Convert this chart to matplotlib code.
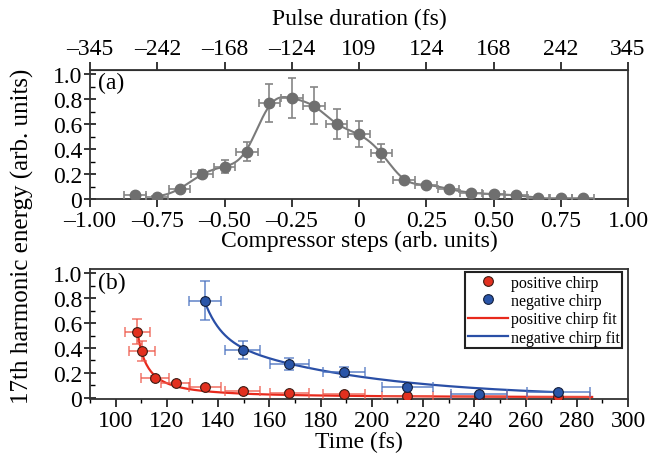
import matplotlib

matplotlib.use("Agg")

import matplotlib.pyplot as plt
import numpy as np
from matplotlib.ticker import FixedLocator, MultipleLocator

plt.rcParams["font.family"] = ["Liberation Serif", "DejaVu Serif"]

# ── Data: panel (a) ──────────────────────────────────────────────────────────
steps = [-10 / 12, -9 / 12, -8 / 12, -7 / 12, -6 / 12, -5 / 12, -4 / 12,
         -3 / 12, -2 / 12, -1 / 12, 0.0, 1 / 12, 2 / 12, 3 / 12, 4 / 12,
         5 / 12, 6 / 12, 7 / 12, 8 / 12, 9 / 12, 10 / 12]
energy_a = [0.035, 0.02, 0.08, 0.20, 0.26, 0.38, 0.77, 0.81, 0.75, 0.60,
            0.52, 0.37, 0.15, 0.115, 0.08, 0.05, 0.04, 0.03, 0.01, 0.01, 0.01]
energy_a_err = [0.01, 0.01, 0.02, 0.03, 0.055, 0.077, 0.155, 0.16, 0.15, 0.12,
                0.105, 0.075, 0.02, 0.015, 0.015, 0.01, 0.01, 0.01, 0.01, 0.01, 0.01]
steps_err = [0.04] * 21

step_ticks = [-1.0, -0.75, -0.5, -0.25, 0.0, 0.25, 0.5, 0.75, 1.0]
step_labels = ["–1.00", "–0.75", "–0.50", "–0.25", "0", "0.25", "0.50", "0.75", "1.00"]
pulse_labels = ["–345", "–242", "–168", "–124", "109", "124", "168", "242", "345"]

# ── Data: panel (b) ──────────────────────────────────────────────────────────
t_pos = [108.5, 110.2, 115.4, 123.4, 134.9, 149.6, 167.8, 189.2, 213.9, 241.8, 272.8]
e_pos = [0.53, 0.376, 0.156, 0.115, 0.086, 0.053, 0.04, 0.03, 0.013, 0.013, 0.01]
e_pos_err = [0.10, 0.08, 0.015, 0.01, 0.01, 0.01, 0.01, 0.01, 0.01, 0.01, 0.01]
t_pos_err = [4.9, 5.0, 5.3, 5.6, 6.2, 6.8, 7.6, 8.3, 9.8, 11.0, 12.2]

t_neg = [134.8, 149.6, 167.8, 189.2, 213.9, 241.8, 272.8]
e_neg = [0.78, 0.384, 0.27, 0.21, 0.089, 0.027, 0.045]
e_neg_err = [0.155, 0.075, 0.05, 0.04, 0.01, 0.01, 0.01]
t_neg_err = [6.2, 6.8, 7.6, 8.3, 9.8, 11.0, 12.2]

# fit parameters
pos_fit_a, pos_fit_t0, pos_fit_p = 3.26, 104.0, 1.2
neg_fit_a, neg_fit_tau1, neg_fit_b, neg_fit_tau2, neg_fit_t0 = 0.28, 6.3, 0.48, 58.0, 135.0

GREY = "#6f6f6f"
RED = "#e2301f"
BLUE = "#2a55a8"


def natural_spline(x, y, xs):
    # natural cubic spline through the points (Origin-style smooth connect)
    x = np.asarray(x, float)
    y = np.asarray(y, float)
    n = len(x)
    h = np.diff(x)
    A = np.zeros((n, n))
    r = np.zeros(n)
    A[0, 0] = A[-1, -1] = 1
    for i in range(1, n - 1):
        A[i, i - 1] = h[i - 1]
        A[i, i] = 2 * (h[i - 1] + h[i])
        A[i, i + 1] = h[i]
        r[i] = 6 * ((y[i + 1] - y[i]) / h[i] - (y[i] - y[i - 1]) / h[i - 1])
    M = np.linalg.solve(A, r)
    idx = np.clip(np.searchsorted(x, xs) - 1, 0, n - 2)
    a = x[idx + 1] - xs
    b = xs - x[idx]
    hi = h[idx]
    return (M[idx] * a**3 / (6 * hi) + M[idx + 1] * b**3 / (6 * hi)
            + (y[idx] / hi - M[idx] * hi / 6) * a
            + (y[idx + 1] / hi - M[idx + 1] * hi / 6) * b)


def smooth_curve(x, y, lo, hi, sigma=0.025):
    # spline through the data, then a light gaussian smoothing
    grid = np.linspace(x[0], x[-1], 1200)
    ys = natural_spline(x, y, grid)
    dx = grid[1] - grid[0]
    k = np.arange(-int(4 * sigma / dx), int(4 * sigma / dx) + 1) * dx
    w = np.exp(-0.5 * (k / sigma) ** 2)
    w /= w.sum()
    pad = len(k) // 2
    ypad = np.concatenate([np.full(pad, ys[0]), ys, np.full(pad, ys[-1])])
    ysm = np.convolve(ypad, w, mode="valid")
    keep = (grid >= lo) & (grid <= hi)
    return grid[keep], ysm[keep]


fig = plt.figure(figsize=(6.61, 4.60), dpi=100)
ax1 = fig.add_axes([90 / 661, 1 - 200 / 460, 538 / 661, 129 / 460])
ax2 = fig.add_axes([90 / 661, 1 - 400 / 460, 538 / 661, 130 / 460])

FS = 17

# ── Panel (a) ────────────────────────────────────────────────────────────────
cx, cy = smooth_curve(steps, energy_a, steps[1] - 0.02, steps[18])
ax1.plot(cx, cy, color="#7a7a7a", lw=1.5, zorder=2)
ax1.errorbar(steps, energy_a, yerr=energy_a_err, xerr=steps_err, fmt="o",
             color=GREY, ms=7.5, ecolor="#858585", elinewidth=1.2, capsize=3,
             capthick=1.2, zorder=3)
ax1.set_xlim(-1, 1)
ax1.set_ylim(0, 1.035)
ax1.set_xticks(step_ticks)
ax1.set_xticklabels(step_labels)
ax1.set_xlabel("Compressor steps (arb. units)", fontsize=FS, labelpad=-1)
ax1.text(0.015, 0.90, "(a)", transform=ax1.transAxes, fontsize=FS,
         ha="left", va="center")

top = ax1.secondary_xaxis("top")
top.set_xticks(step_ticks)
top.set_xticklabels(pulse_labels)
top.set_xlabel("Pulse duration (fs)", fontsize=FS, labelpad=10)
top.tick_params(axis="x", direction="out", length=6, width=1.1, labelsize=FS, pad=2)

# ── Panel (b) ────────────────────────────────────────────────────────────────
tp = np.linspace(t_pos[0], 286, 400)
ax2.plot(tp, pos_fit_a / (tp - pos_fit_t0) ** pos_fit_p, color="#e8291c",
         lw=1.6, zorder=2, label="positive chirp fit")
tn = np.linspace(t_neg[0], t_neg[-1], 400)
ax2.plot(tn, neg_fit_a * np.exp(-(tn - neg_fit_t0) / neg_fit_tau1)
         + neg_fit_b * np.exp(-(tn - neg_fit_t0) / neg_fit_tau2),
         color="#2a4fa6", lw=1.6, zorder=2, label="negative chirp fit")

ax2.errorbar(t_pos, e_pos, yerr=e_pos_err, xerr=t_pos_err, fmt="none",
             ecolor="#ee5a4c", alpha=0.75, elinewidth=1.3, capsize=3.5,
             capthick=1.2, zorder=3)
ax2.errorbar(t_neg, e_neg, yerr=e_neg_err, xerr=t_neg_err, fmt="none",
             ecolor="#4a72c0", alpha=0.75, elinewidth=1.3, capsize=3.5,
             capthick=1.2, zorder=3)
ax2.plot(t_pos, e_pos, "o", color=RED, mec="#3b1c14", mew=0.8, ms=7,
         zorder=4, label="positive chirp")
ax2.plot(t_neg, e_neg, "o", color=BLUE, mec="#14203c", mew=0.8, ms=7,
         zorder=4, label="negative chirp")

ax2.set_xlim(90, 300)
ax2.set_ylim(-0.01, 1.035)
ax2.xaxis.set_major_locator(MultipleLocator(20))
ax2.xaxis.set_minor_locator(MultipleLocator(10))
ax2.set_xlabel("Time (fs)", fontsize=FS, labelpad=0)
ax2.text(0.015, 0.90, "(b)", transform=ax2.transAxes, fontsize=FS,
         ha="left", va="center")

handles, labels = ax2.get_legend_handles_labels()
order = [2, 3, 0, 1]
leg = ax2.legend([handles[i] for i in order], [labels[i] for i in order],
                 loc="upper right", bbox_to_anchor=(0.995, 1.0),
                 fontsize=11.5, frameon=True, fancybox=False, framealpha=1,
                 edgecolor="#222222", handlelength=2.5, handletextpad=0.2,
                 labelspacing=0.15, borderpad=0.15, borderaxespad=0.2)
leg.get_frame().set_linewidth(1.5)

# ── Shared styling ───────────────────────────────────────────────────────────
for ax in (ax1, ax2):
    ax.yaxis.set_major_locator(FixedLocator([0, 0.2, 0.4, 0.6, 0.8, 1.0]))
    ax.yaxis.set_minor_locator(MultipleLocator(0.1))
    ax.set_yticklabels(["0", "0.2", "0.4", "0.6", "0.8", "1.0"])
    ax.tick_params(axis="y", which="major", direction="inout", length=9,
                   width=1.1, labelsize=FS, pad=1)
    ax.tick_params(axis="y", which="minor", direction="in", length=3.5, width=1.0)
    ax.tick_params(axis="x", which="major", direction="out", length=6,
                   width=1.1, labelsize=FS, pad=2)
    ax.tick_params(axis="x", which="minor", direction="out", length=3, width=1.0)
    for s in ax.spines.values():
        s.set_linewidth(1.3)
        s.set_color("#333333")

fig.text(22 / 661, 1 - 236 / 460, "17th harmonic energy (arb. units)",
         rotation=90, ha="center", va="center", fontsize=18)

fig.savefig("out.png", dpi=100)
